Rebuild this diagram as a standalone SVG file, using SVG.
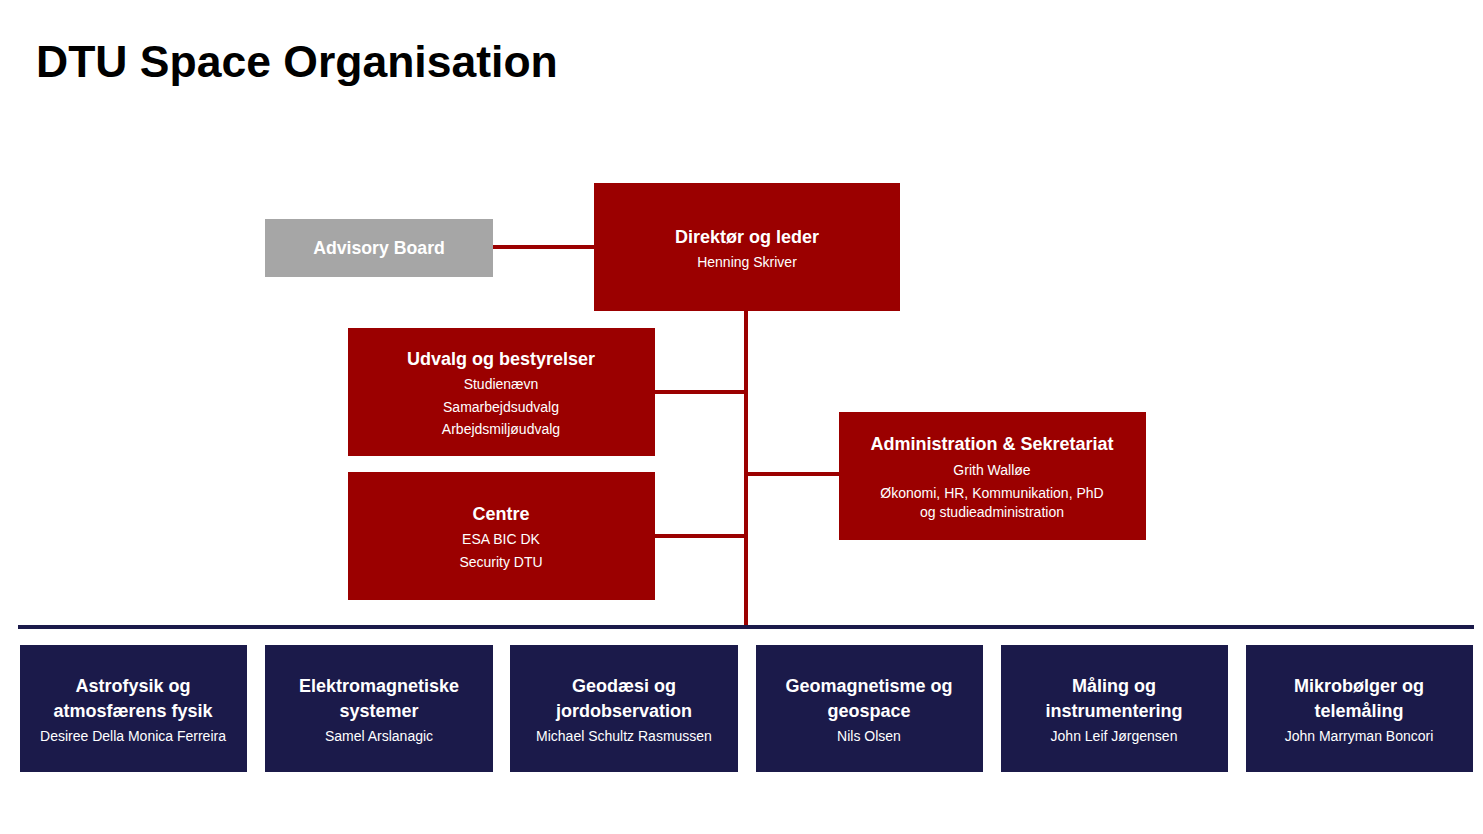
<svg xmlns="http://www.w3.org/2000/svg" width="1483" height="834" viewBox="0 0 1483 834">
<style>
  .red { fill: #9b0000; }
  .grey { fill: #a6a6a6; }
  .navy { fill: #1b1a4a; }
  text { font-family: "Liberation Sans", Arial, sans-serif; fill: #ffffff; text-anchor: middle; }
  .h { font-weight: bold; font-size: 18px; }
  .s { font-size: 14px; }
  .title { font-weight: bold; font-size: 44.5px; fill: #000000; text-anchor: start; }
  .cr { stroke: #9b0000; stroke-width: 4; fill: none; }
  .cn { stroke: #1b1a4a; stroke-width: 4; fill: none; }
</style>
<rect width="1483" height="834" fill="#ffffff"/>
<text class="title" x="36" y="77">DTU Space Organisation</text>

<g id="connectors">
  <line class="cr" x1="493" y1="247" x2="594" y2="247"/>
  <line class="cr" x1="746" y1="311" x2="746" y2="626"/>
  <line class="cr" x1="655" y1="392" x2="746" y2="392"/>
  <line class="cr" x1="655" y1="536" x2="746" y2="536"/>
  <line class="cr" x1="746" y1="474" x2="839" y2="474"/>
  <line class="cn" x1="18" y1="627" x2="1474" y2="627"/>
</g>

<g id="advisory">
  <rect class="grey" x="265" y="219" width="228" height="58"/>
  <text class="h" x="379" y="254" style="font-size:17.7px">Advisory Board</text>
</g>

<g id="direktor">
  <rect class="red" x="594" y="183" width="306" height="128"/>
  <text class="h" x="747" y="243">Direktør og leder</text>
  <text class="s" x="747" y="267">Henning Skriver</text>
</g>

<g id="udvalg">
  <rect class="red" x="348" y="328" width="307" height="128"/>
  <text class="h" x="501" y="365">Udvalg og bestyrelser</text>
  <text class="s" x="501" y="389">Studienævn</text>
  <text class="s" x="501" y="412">Samarbejdsudvalg</text>
  <text class="s" x="501" y="434">Arbejdsmiljøudvalg</text>
</g>

<g id="centre">
  <rect class="red" x="348" y="472" width="307" height="128"/>
  <text class="h" x="501" y="520">Centre</text>
  <text class="s" x="501" y="544">ESA BIC DK</text>
  <text class="s" x="501" y="567">Security DTU</text>
</g>

<g id="administration">
  <rect class="red" x="839" y="412" width="307" height="128"/>
  <text class="h" x="992" y="450">Administration &amp; Sekretariat</text>
  <text class="s" x="992" y="475">Grith Walløe</text>
  <text class="s" x="992" y="498">Økonomi, HR, Kommunikation, PhD</text>
  <text class="s" x="992" y="517">og studieadministration</text>
</g>

<g id="astrofysik">
  <rect class="navy" x="20" y="645" width="227" height="127"/>
  <text class="h" x="133" y="692">Astrofysik og</text>
  <text class="h" x="133" y="717">atmosfærens fysik</text>
  <text class="s" x="133" y="741">Desiree Della Monica Ferreira</text>
</g>

<g id="elektromagnetiske">
  <rect class="navy" x="265" y="645" width="228" height="127"/>
  <text class="h" x="379" y="692">Elektromagnetiske</text>
  <text class="h" x="379" y="717">systemer</text>
  <text class="s" x="379" y="741">Samel Arslanagic</text>
</g>

<g id="geodaesi">
  <rect class="navy" x="510" y="645" width="228" height="127"/>
  <text class="h" x="624" y="692">Geodæsi og</text>
  <text class="h" x="624" y="717">jordobservation</text>
  <text class="s" x="624" y="741">Michael Schultz Rasmussen</text>
</g>

<g id="geomagnetisme">
  <rect class="navy" x="756" y="645" width="227" height="127"/>
  <text class="h" x="869" y="692">Geomagnetisme og</text>
  <text class="h" x="869" y="717">geospace</text>
  <text class="s" x="869" y="741">Nils Olsen</text>
</g>

<g id="maaling">
  <rect class="navy" x="1001" y="645" width="227" height="127"/>
  <text class="h" x="1114" y="692">Måling og</text>
  <text class="h" x="1114" y="717">instrumentering</text>
  <text class="s" x="1114" y="741">John Leif Jørgensen</text>
</g>

<g id="mikrobolger">
  <rect class="navy" x="1246" y="645" width="227" height="127"/>
  <text class="h" x="1359" y="692">Mikrobølger og</text>
  <text class="h" x="1359" y="717">telemåling</text>
  <text class="s" x="1359" y="741">John Marryman Boncori</text>
</g>
</svg>
